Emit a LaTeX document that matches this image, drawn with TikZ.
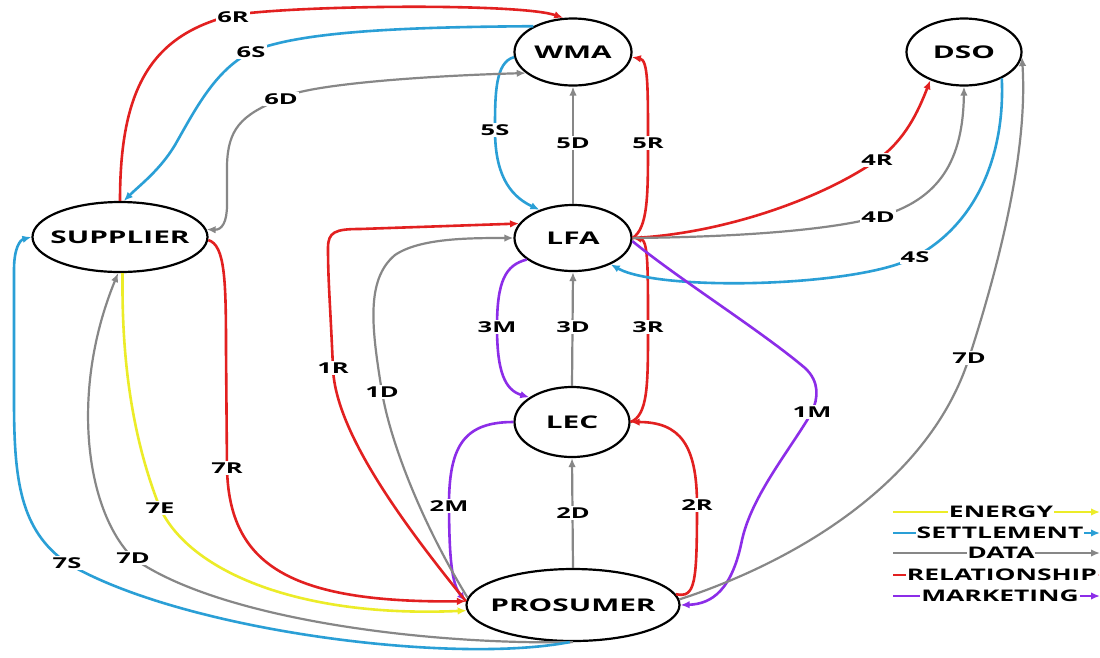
\documentclass[tikz,border=0pt]{standalone}
\usepackage{fontspec}
\setmainfont{Open Sans}
\usetikzlibrary{shapes.geometric,arrows.meta}
\definecolor{cred}{RGB}{226,32,32}
\definecolor{cblue}{RGB}{42,159,214}
\definecolor{cgray}{RGB}{135,135,135}
\definecolor{cpurple}{RGB}{140,45,232}
\definecolor{cyellow}{RGB}{236,236,40}
\newcommand{\stretchtxt}[1]{\scalebox{1.7}[1]{#1}}
\newcommand{\enttxt}[1]{\makebox[0pt]{\stretchtxt{#1}}}
\tikzset{
  ent/.style={ellipse, draw=black, line width=2.2pt, fill=white, inner sep=0pt,
    font=\fontsize{17.5}{20}\selectfont\bfseries},
  lbl/.style={fill=white, inner sep=1.2pt, font=\fontsize{15}{18}\selectfont\bfseries},
  leg/.style={fill=white, inner sep=0.8pt, font=\fontsize{16}{18}\selectfont\bfseries},
  flow/.style={line width=2.6pt, ->},
  rel/.style={flow, draw=cred},
  set/.style={flow, draw=cblue},
  dat/.style={flow, draw=cgray, line width=2.2pt},
  mkt/.style={flow, draw=cpurple},
  ene/.style={flow, draw=cyellow},
}
\begin{document}
\begin{tikzpicture}[x=1pt, y=-1pt, >={Latex[length=9pt,width=7.5pt]}]
\fill[white] (0,0) rectangle (1100,657);
\useasboundingbox (0,0) rectangle (1100,657);

% entities
\node[ent, minimum width=117pt, minimum height=67pt] (WMA) at (573,52) {\enttxt{WMA}};
\node[ent, minimum width=115pt, minimum height=67pt] (DSO) at (964,52) {\enttxt{DSO}};
\node[ent, minimum width=175pt, minimum height=70pt] (SUP) at (120,237) {\enttxt{SUPPLIER}};
\node[ent, minimum width=117pt, minimum height=66pt] (LFA) at (573,238) {\enttxt{LFA}};
\node[ent, minimum width=115pt, minimum height=70pt] (LEC) at (572,422) {\enttxt{LEC}};
\node[ent, minimum width=213pt, minimum height=72pt] (PRO) at (573,605) {\enttxt{PROSUMER}};

% vertical data flows
\draw[dat] (LFA.north) -- (WMA.south);
\draw[dat] (LEC.north) -- (LFA.south);
\draw[dat] (PRO.north) -- (LEC.south);

% LFA <-> WMA
\draw[set] (WMA.185) .. controls (495,62) and (495,95) .. (495,130) .. controls (495,172) and (508,195) .. (LFA.140);
\draw[rel] (LFA.0) .. controls (648,228) and (648,195) .. (648,143) .. controls (648,85) and (648,60) .. (WMA.-5);
% LEC -> LFA
\draw[rel] (LEC.0) .. controls (648,415) and (648,385) .. (648,327) .. controls (648,265) and (648,240) .. (LFA.0);
% LFA <-> DSO
\draw[rel] (LFA.0) .. controls (720,234) and (820,200) .. (877,160) .. controls (905,140) and (918,112) .. (DSO.220);
\draw[dat] (LFA.0) .. controls (740,237) and (830,230) .. (878,217) .. controls (940,200) and (963,160) .. (DSO.south);
\draw[set] (DSO.-35) .. controls (1005,150) and (980,222) .. (915,257) .. controls (860,287) and (660,292) .. (LFA.-35);
% marketing
\draw[mkt] (LFA.-3) .. controls (680,280) and (760,330) .. (805,368) .. controls (820,382) and (818,398) .. (812,412) .. controls (790,450) and (752,495) .. (742,540) .. controls (732,590) and (712,604) .. (PRO.east);
\draw[mkt] (LFA.205) .. controls (505,265) and (497,282) .. (497,327) .. controls (497,372) and (505,390) .. (LEC.150);
\draw[mkt] (LEC.180) .. controls (465,422) and (450,445) .. (449,500) .. controls (449,560) and (452,585) .. (PRO.178);
% prosumer -> LEC relationship
\draw[rel] (PRO.6) .. controls (695,598) and (697,585) .. (697,505) .. controls (697,445) and (680,422) .. (LEC.0);
% prosumer -> DSO data
\draw[dat] (PRO.3) .. controls (800,560) and (930,480) .. (969,358) .. controls (1000,262) and (1028,150) .. (DSO.-5);
% supplier <-> WMA
\draw[rel] (SUP.north) .. controls (120,90) and (150,35) .. (233,15) .. controls (300,5) and (520,3) .. (WMA.106);
\draw[set] (WMA.147) .. controls (420,27) and (300,30) .. (251,52) .. controls (215,70) and (195,110) .. (175,145) .. controls (160,170) and (140,185) .. (SUP.84);
\draw[dat, <->] (WMA.204) .. controls (420,76) and (300,85) .. (281,99) .. controls (240,115) and (228,130) .. (227,165) -- (227,205) .. controls (227,222) and (222,230) .. (SUP.5);
% supplier <-> prosumer
\draw[rel] (SUP.-2) .. controls (225,245) and (226,280) .. (226,350) -- (227,468) .. controls (229,565) and (290,603) .. (PRO.178);
\draw[ene] (SUP.-86) .. controls (122,330) and (125,420) .. (160,508) .. controls (190,572) and (300,618) .. (PRO.183);
\draw[dat] (PRO.south) .. controls (430,645) and (220,620) .. (133,558) .. controls (85,510) and (70,390) .. (SUP.-93);
\draw[set] (PRO.265) .. controls (450,665) and (180,630) .. (67,563) .. controls (20,530) and (14,480) .. (14,400) -- (14,270) .. controls (14,248) and (20,240) .. (SUP.180);
% prosumer -> LFA
\draw[rel] (PRO.178) .. controls (400,520) and (335,430) .. (333,368) .. controls (330,300) and (328,280) .. (328,248) .. controls (328,232) and (335,229) .. (360,229) -- (LFA.165);
\draw[dat] (PRO.176) .. controls (420,520) and (390,440) .. (382,392) .. controls (372,330) and (365,280) .. (395,255) .. controls (420,238) and (470,238) .. (LFA.180);

% labels
\node[lbl] (l5D) at (573,143) {\stretchtxt{5D}};
\node[lbl] (l3D) at (573,327) {\stretchtxt{3D}};
\node[lbl] (l2D) at (573,513) {\stretchtxt{2D}};
\node[lbl] (l5S) at (495,130) {\stretchtxt{5S}};
\node[lbl] (l5R) at (648,143) {\stretchtxt{5R}};
\node[lbl] (l3M) at (497,327) {\stretchtxt{3M}};
\node[lbl] (l3R) at (648,327) {\stretchtxt{3R}};
\node[lbl] (l4R) at (877,160) {\stretchtxt{4R}};
\node[lbl] (l4D) at (878,217) {\stretchtxt{4D}};
\node[lbl] (l4S) at (915,257) {\stretchtxt{4S}};
\node[lbl] (l1M) at (812,412) {\stretchtxt{1M}};
\node[lbl] (l2M) at (449,506) {\stretchtxt{2M}};
\node[lbl] (l2R) at (697,505) {\stretchtxt{2R}};
\node[lbl] (l7Dr) at (969,358) {\stretchtxt{7D}};
\node[lbl] (l6R) at (233,17) {\stretchtxt{6R}};
\node[lbl] (l6S) at (251,52) {\stretchtxt{6S}};
\node[lbl] (l6D) at (281,99) {\stretchtxt{6D}};
\node[lbl] (l1R) at (333,368) {\stretchtxt{1R}};
\node[lbl] (l1D) at (382,392) {\stretchtxt{1D}};
\node[lbl] (l7R) at (227,468) {\stretchtxt{7R}};
\node[lbl] (l7E) at (160,508) {\stretchtxt{7E}};
\node[lbl] (l7Dl) at (133,558) {\stretchtxt{7D}};
\node[lbl] (l7S) at (67,563) {\stretchtxt{7S}};

% legend
\coordinate (gE0) at (893,512); \coordinate (gE1) at (1100,512);
\coordinate (gS0) at (893,533); \coordinate (gS1) at (1100,533);
\coordinate (gD0) at (893,553); \coordinate (gD1) at (1100,553);
\coordinate (gR0) at (893,575); \coordinate (gR1) at (1100,575);
\coordinate (gM0) at (893,596); \coordinate (gM1) at (1100,596);
\draw[ene] (gE0) -- (gE1);
\draw[set] (gS0) -- (gS1);
\draw[dat] (gD0) -- (gD1);
\draw[rel] (gR0) -- (gR1);
\draw[mkt] (gM0) -- (gM1);
\node[leg] (kE) at (1001,512) {\scalebox{1.65}[1]{ENERGY}};
\node[leg] (kS) at (1000,533) {\scalebox{1.65}[1]{SETTLEMENT}};
\node[leg] (kD) at (1001,553) {\scalebox{1.65}[1]{DATA}};
\node[leg] (kR) at (1002,575) {\scalebox{1.65}[1]{RELATIONSHIP}};
\node[leg] (kM) at (1000,596) {\scalebox{1.65}[1]{MARKETING}};
\end{tikzpicture}
\end{document}
